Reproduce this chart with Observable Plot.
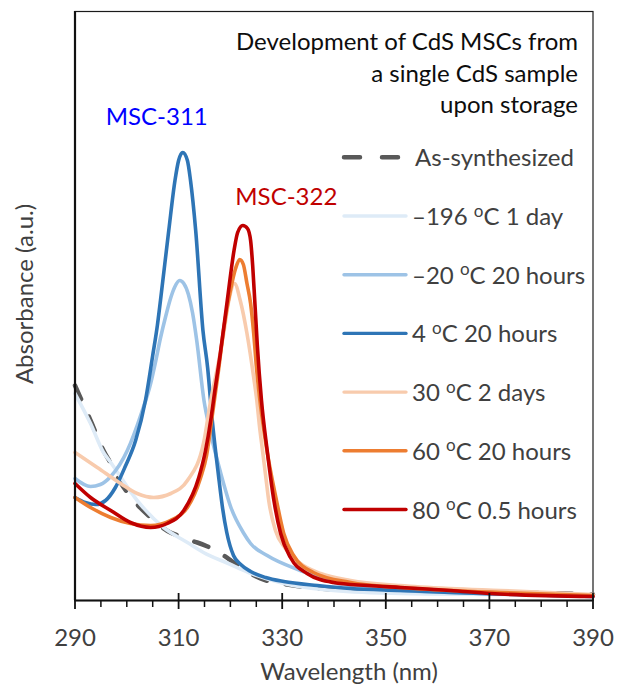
<!DOCTYPE html>
<html>
<head>
<meta charset="utf-8">
<script src="https://cdn.jsdelivr.net/npm/d3@7"></script>
<script src="https://cdn.jsdelivr.net/npm/@observablehq/plot@0.6"></script>
<style>
  html, body { margin: 0; padding: 0; background: #fff; }
  #chart { width: 617px; height: 687px; }
  #chart svg { display: block; }
</style>
</head>
<body>
<div id="chart"></div>
<script>
// UV-vis spectra: [wavelength (nm), absorbance (a.u.)]
const asSynthesized = [[290,.43],[293,.36],[295.5,.30],[296.9,.274],[298.8,.236],[300.1,.216],[302,.192],[304.6,.166],[305.9,.154],[308.4,.136],[310.5,.128],[312.4,.12],[313.6,.116],[315.6,.108],[317.5,.098],[318.7,.09],[320.1,.08],[322,.066],[323.2,.058],[325.8,.044],[331,.032],[339.9,.022],[352.8,.018],[362.5,.016],[372.1,.015],[379.9,.015],[390,.012]];
const minus196C1day = [[290,.414],[293,.354],[295.5,.296],[296.9,.276],[302,.2],[307.1,.146],[311.7,.116],[314.8,.096],[319.6,.074],[323.5,.056],[330.3,.034],[339.9,.02],[352.8,.014],[372.1,.012],[390,.01]];
const minus20C20h = [[290,.244],[293,.228],[294.9,.232],[296.9,.248],[300.1,.3],[302.8,.374],[304.6,.434],[305.5,.475],[306.5,.525],[307.5,.568],[308.5,.606],[309.3,.628],[310.2,.64],[311,.634],[311.9,.612],[312.7,.575],[313.5,.52],[314.9,.4],[316.2,.334],[318.1,.256],[320.1,.186],[322.6,.134],[323.9,.114],[327.1,.09],[333.5,.06],[339.9,.036],[346.4,.026],[352.8,.02],[362.5,.016],[372.1,.013],[390,.008]];
const plus4C20h = [[290,.206],[292,.196],[294,.192],[295.9,.2],[297.8,.226],[299.7,.268],[301.7,.32],[303.6,.4],[305,.49],[305.9,.55],[306.5,.6],[308.1,.74],[309.3,.84],[310,.88],[310.8,.896],[311.7,.88],[312.3,.84],[313.3,.74],[314.7,.54],[315.6,.466],[316.5,.36],[317.7,.25],[318.5,.184],[319.3,.136],[320.6,.09],[322,.072],[323.9,.058],[326.8,.046],[330.3,.038],[336.8,.03],[343.2,.024],[352.8,.02],[362.5,.016],[372.1,.013],[390,.008]];
const plus30C2days = [[290,.296],[294.3,.266],[298.8,.234],[302,.214],[305.2,.206],[308.5,.214],[311.7,.24],[314.8,.314],[316.2,.4],[317.5,.466],[318.7,.534],[319.7,.6],[320.8,.634],[321.9,.6],[323.2,.534],[324.5,.446],[325.1,.4],[325.6,.35],[326.2,.3],[326.8,.25],[327.4,.2],[328.7,.14],[330.6,.104],[333.5,.074],[337.4,.054],[343.2,.04],[352.8,.03],[362.5,.024],[372.1,.02],[390,.012]];
const plus60C20h = [[290,.206],[293,.186],[296.9,.166],[300.7,.154],[304.6,.15],[308.4,.16],[311.7,.186],[314.2,.244],[315.4,.29],[316.5,.37],[317.7,.46],[318.8,.55],[320,.62],[321,.664],[321.8,.682],[322.5,.672],[323.2,.634],[323.9,.594],[324.5,.534],[325,.47],[325.7,.4],[326.9,.31],[328.9,.2],[330.3,.134],[332.2,.09],[336,.056],[343.2,.036],[352.8,.026],[362.5,.02],[372.1,.016],[390,.01]];
const plus80C05h = [[290,.234],[293,.206],[296.9,.18],[300.7,.156],[304.6,.146],[307.8,.154],[311,.18],[313.9,.246],[315.2,.3],[316.2,.36],[317,.42],[318,.49],[319.4,.6],[320.7,.7],[321.4,.736],[322.4,.75],[323.3,.744],[323.9,.72],[324.3,.67],[324.7,.6],[325.2,.51],[326,.4],[327.1,.3],[328.4,.2],[329.7,.134],[331.6,.086],[334.8,.054],[339.9,.036],[346.4,.03],[352.8,.026],[362.5,.02],[370.2,.014],[390,.008]];

const spectra = [asSynthesized, minus196C1day, minus20C20h, plus4C20h, plus30C2days, plus60C20h, plus80C05h];
const seriesNames = ["As-synthesized", "-196 C 1 day", "-20 C 20 hours", "4 C 20 hours", "30 C 2 days", "60 C 20 hours", "80 C 0.5 hours"];
const seriesColors = ["#595959", "#DEEBF7", "#9DC3E6", "#2E75B6", "#F8CBAD", "#ED7D31", "#C00000"];
const storageTemps = [null, "–196", "–20", "4", "30", "60", "80"];
const storageTimes = [null, "1 day", "20 hours", "20 hours", "2 days", "20 hours", "0.5 hours"];
const titleLines = ["Development of CdS MSCs from", "a single CdS sample", "upon storage"];

const wavelengthRange = [290, 390];
const absorbanceRange = [0, 1.178];
const majorTicks = [290, 310, 330, 350, 370, 390];
const minorTicks = [295, 300, 305, 315, 320, 325, 335, 340, 345, 355, 360, 365, 375, 380, 385];

const xLabel = "Wavelength (nm)";
const yLabel = "Absorbance (a.u.)";
const msc311 = {text: "MSC-311", series: 3, color: "#0000FF", dx: -26, dy: -35};
const msc322 = {text: "MSC-322", series: 6, color: "#C00000", dx: 43.5, dy: -28};

// tidy rows
const rows = spectra.flatMap((pts, i) => pts.map(([wl, a]) => ({series: seriesNames[i], wl, a})));
const dashedRows = rows.filter(d => d.series === seriesNames[0]);
const solidRows = rows.filter(d => d.series !== seriesNames[0]);

// peak of a spectrum, used to anchor the cluster labels
const peakOf = i => {
  const [wl, a] = d3.greatest(spectra[i], d => d[1]);
  return {wl, a};
};

const FONT = "Lato, 'Open Sans', sans-serif";
const TEXT_GRAY = "#404040";

const chart = Plot.plot({
  width: 617,
  height: 687,
  marginLeft: 74.5,
  marginRight: 24.5,
  marginTop: 11,
  marginBottom: 87,
  style: {fontFamily: FONT, background: "#fff", overflow: "visible"},
  x: {domain: wavelengthRange, axis: null},
  y: {domain: absorbanceRange, axis: null},
  color: {domain: seriesNames, range: seriesColors},
  marks: [
    Plot.frame({stroke: "#1a1a1a", strokeWidth: 1.2}),
    Plot.line(dashedRows, {
      x: "wl", y: "a", stroke: seriesColors[0], strokeWidth: 4.5,
      strokeDasharray: "15,19", strokeLinecap: "round", curve: "monotone-x"
    }),
    Plot.line(solidRows, {
      x: "wl", y: "a", z: "series", stroke: "series", strokeWidth: 3.6,
      curve: "monotone-x"
    }),
    Plot.ruleX([wavelengthRange[0]], {stroke: "#111", strokeWidth: 2.2}),
    Plot.ruleY([absorbanceRange[0]], {stroke: "#111", strokeWidth: 2.2}),
    // major ticks cross the axis line, minor ticks hang below it
    Plot.axisX(majorTicks, {tickSize: 16, dy: -7, fill: "none", stroke: "#111", strokeWidth: 1.8}),
    Plot.axisX(minorTicks, {tickSize: 7, fill: "none", stroke: "#111", strokeWidth: 1.5}),
    Plot.axisX(majorTicks, {tickSize: 0, tickPadding: 28, fontSize: 24, fill: TEXT_GRAY, label: null, tickFormat: d => String(d)}),
    Plot.text([xLabel], {
      text: d => d, frameAnchor: "bottom", textAnchor: "middle", lineAnchor: "middle",
      dx: 15, dy: 72, fontSize: 24, fill: TEXT_GRAY
    }),
    Plot.text([yLabel], {
      text: d => d, frameAnchor: "left", textAnchor: "middle", lineAnchor: "middle",
      rotate: -90, dx: -50, dy: -12, fontSize: 24, fill: TEXT_GRAY
    }),
    ...[msc311, msc322].map(lab => Plot.text([peakOf(lab.series)], {
      x: "wl", y: "a", text: () => lab.text, dx: lab.dx, dy: lab.dy,
      fontSize: 24, fill: lab.color
    }))
  ]
});

document.getElementById("chart").appendChild(chart);

// Title block and legend inside the plot area
const svg = d3.select(chart);
const g = svg.append("g").attr("font-family", FONT).attr("font-size", 24);

g.selectAll("text.title")
  .data(titleLines)
  .join("text")
  .attr("class", "title")
  .attr("x", 578)
  .attr("y", (d, i) => 50 + i * 31.6)
  .attr("text-anchor", "end")
  .attr("fill", "#0d0d0d")
  .text(d => d);

const legendTop = 166.3, legendStep = 58.7;
const swX0 = 344, swX1 = 406, txX = 412;
seriesNames.forEach((name, i) => {
  const base = legendTop + i * legendStep;
  const sw = g.append("line")
    .attr("x1", swX0).attr("x2", i === 0 ? 398 : swX1)
    .attr("y1", base - 9).attr("y2", base - 9)
    .attr("stroke", seriesColors[i]);
  if (i === 0) {
    sw.attr("stroke-width", 4.5).attr("stroke-dasharray", "16,22").attr("stroke-linecap", "round");
  } else {
    sw.attr("stroke-width", 3.4).attr("stroke-linecap", "round");
  }
  const t = g.append("text")
    .attr("x", i === 0 ? 415 : txX).attr("y", base)
    .attr("text-anchor", "start")
    .attr("fill", TEXT_GRAY);
  if (i === 0) {
    t.text(name);
  } else {
    t.append("tspan").text(storageTemps[i] + " ");
    t.append("tspan").attr("font-size", 17).attr("dy", -8.5).text("o");
    t.append("tspan").attr("dy", 8.5).text("C " + storageTimes[i]);
  }
});
</script>
</body>
</html>
